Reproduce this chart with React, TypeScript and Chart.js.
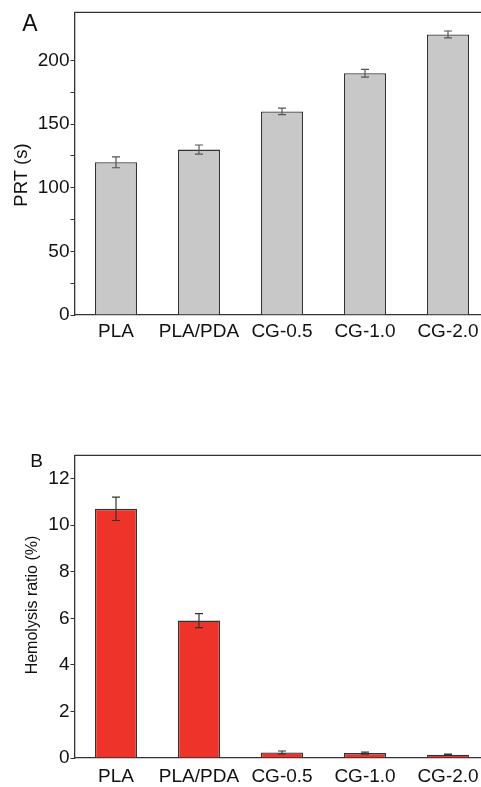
import React, { useEffect, useRef } from "react";
import { Chart, registerables } from "chart.js";

Chart.register(...registerables);

const categories = ["PLA", "PLA/PDA", "CG-0.5", "CG-1.0", "CG-2.0"];
const prtValues = [120, 130, 160, 190, 220.5];
const prtErrors = [4.3, 3.6, 2.6, 3, 2.7];
const hemoValues = [10.7, 5.9, 0.24, 0.21, 0.14];
const hemoErrors = [0.5, 0.3, 0.06, 0.04, 0.03];

const FONT = 'Arial, "Liberation Sans", sans-serif';

const errorBarPlugin = {
  id: "errorBars",
  afterDatasetsDraw(chart: any) {
    const { ctx } = chart;
    const y = chart.scales.y;
    chart.data.datasets.forEach((ds: any, di: number) => {
      const meta = chart.getDatasetMeta(di);
      const errs: number[] = ds.errors || [];
      meta.data.forEach((bar: any, i: number) => {
        const v = ds.data[i];
        const e = errs[i] || 0;
        const yt = y.getPixelForValue(v + e);
        const yb = y.getPixelForValue(v - e);
        const x = bar.x;
        ctx.save();
        ctx.strokeStyle = ds.errorColor || "#333";
        ctx.lineWidth = 1.2;
        ctx.beginPath();
        ctx.moveTo(x, yt);
        ctx.lineTo(x, yb);
        ctx.moveTo(x - 4, yt);
        ctx.lineTo(x + 4, yt);
        ctx.moveTo(x - 4, yb);
        ctx.lineTo(x + 4, yb);
        ctx.stroke();
        ctx.restore();
      });
    });
  },
};

const framePlugin = {
  id: "frameText",
  afterDraw(chart: any, _args: any, opts: any) {
    const { ctx, chartArea } = chart;
    ctx.save();
    ctx.strokeStyle = "#333";
    ctx.lineWidth = 1.3;
    ctx.beginPath();
    ctx.moveTo(chartArea.left, chartArea.top);
    ctx.lineTo(chartArea.right, chartArea.top);
    ctx.stroke();
    ctx.fillStyle = "#111";
    ctx.textAlign = "center";
    ctx.textBaseline = "middle";
    ctx.font = `${opts.letterSize}px ${FONT}`;
    ctx.fillText(opts.letter, opts.letterX, opts.letterY);
    ctx.translate(opts.titleX, opts.titleY);
    ctx.rotate(-Math.PI / 2);
    ctx.font = `${opts.titleSize}px ${FONT}`;
    ctx.fillText(opts.title, 0, 0);
    ctx.restore();
  },
};

function makeConfig(
  values: number[],
  errors: number[],
  fill: string,
  errColor: string,
  max: number,
  step: number,
  labelStep: number,
  padTop: number,
  xHeight: number,
  xPad: number,
  frame: any
): any {
  return {
    type: "bar",
    data: {
      labels: categories,
      datasets: [
        {
          data: values,
          errors,
          errorColor: errColor,
          backgroundColor: fill,
          borderColor: "#333",
          borderWidth: 1.3,
          barPercentage: 0.506,
          categoryPercentage: 1,
        },
      ],
    },
    options: {
      responsive: false,
      animation: false,
      devicePixelRatio: 1,
      layout: { padding: { left: 0, top: padTop, right: 540 - 489.5, bottom: 0 } },
      plugins: {
        legend: { display: false },
        tooltip: { enabled: false },
        frameText: frame,
      },
      scales: {
        x: {
          grid: { display: false, drawTicks: false },
          border: { display: true, color: "#333", width: 1.3 },
          ticks: { color: "#111", font: { family: FONT, size: 19 }, padding: xPad, maxRotation: 0, autoSkip: false },
          afterFit: (s: any) => {
            s.height = xHeight;
          },
        },
        y: {
          min: 0,
          max,
          afterFit: (s: any) => {
            s.width = 74.5;
          },
          afterBuildTicks: (s: any) => {
            s.ticks = s.ticks.filter((t: any) => Math.abs(t.value / step - Math.round(t.value / step)) < 1e-6);
          },
          grid: { display: true, drawOnChartArea: false, drawTicks: true, tickLength: 4, color: "#333", lineWidth: 1 },
          border: { display: true, color: "#333", width: 1.3 },
          ticks: {
            stepSize: step,
            color: "#111",
            padding: 1,
            font: { family: FONT, size: 19 },
            callback: (v: any) => (Math.abs(v / labelStep - Math.round(v / labelStep)) < 1e-6 ? String(v) : ""),
          },
        },
      },
    },
    plugins: [errorBarPlugin, framePlugin],
  };
}

export default function App() {
  const refA = useRef<HTMLCanvasElement>(null);
  const refB = useRef<HTMLCanvasElement>(null);

  useEffect(() => {
    const a = new Chart(
      refA.current as HTMLCanvasElement,
      makeConfig(prtValues, prtErrors, "#c8c8c8", "#555", 237.8, 25, 50, 12, 35, 5.5, {
        letter: "A",
        letterSize: 23,
        letterX: 30,
        letterY: 24.5,
        title: "PRT (s)",
        titleSize: 18.5,
        titleX: 22,
        titleY: 175,
      })
    );
    const b = new Chart(
      refB.current as HTMLCanvasElement,
      makeConfig(hemoValues, hemoErrors, "#ee332b", "#333", 13, 1, 2, 25.3, 29, 7, {
        letter: "B",
        letterSize: 19,
        letterX: 36.5,
        letterY: 32,
        title: "Hemolysis ratio (%)",
        titleSize: 16,
        titleX: 33,
        titleY: 175,
      })
    );
    return () => {
      a.destroy();
      b.destroy();
    };
  }, []);

  return (
    <div
      style={{
        position: "fixed",
        left: 0,
        top: 0,
        width: 481,
        height: 787,
        overflow: "hidden",
        background: "#fff",
      }}
    >
      <canvas ref={refA} width={540} height={350} style={{ position: "absolute", left: 0, top: 0, width: 540, height: 350 }} />
      <canvas ref={refB} width={540} height={357} style={{ position: "absolute", left: 0, top: 430, width: 540, height: 357 }} />
    </div>
  );
}
